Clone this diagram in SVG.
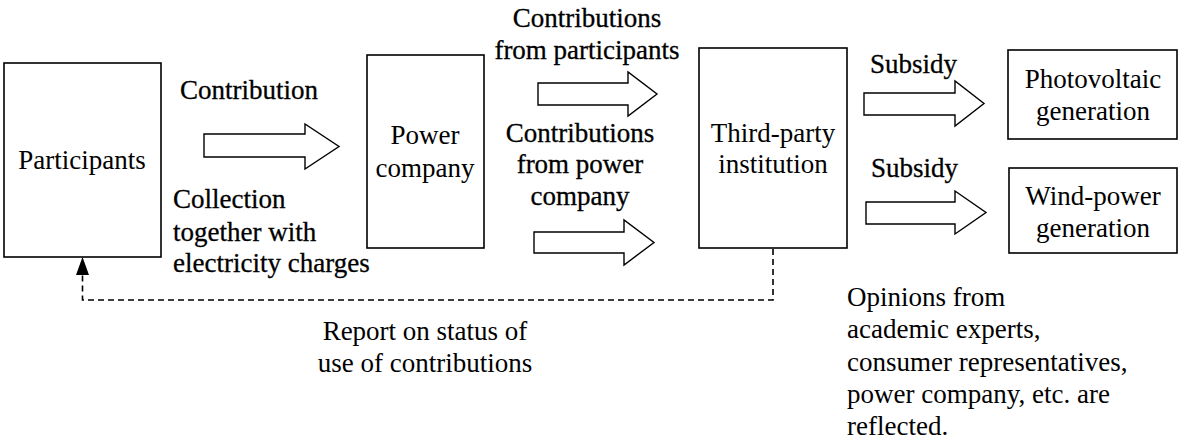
<svg xmlns="http://www.w3.org/2000/svg" width="1179" height="442" viewBox="0 0 1179 442">
<defs>
<style>
.box{fill:#fff;stroke:#000;stroke-width:1.6}
.big{fill:#fff;stroke:#000;stroke-width:1.4}
.dash{fill:none;stroke:#000;stroke-width:1.6;stroke-dasharray:6 4}
.h{stroke:#000;stroke-width:0.3}
</style>
</defs>
<rect width="1179" height="442" fill="#fff"/>
<g id="participants">
<rect class="box" x="4" y="63" width="157" height="194"/>
<text font-family="Liberation Serif" font-size="27" text-anchor="middle" x="82" y="169">Participants</text>
</g>
<g id="power-company">
<rect class="box" x="367" y="55" width="117" height="193"/>
<text font-family="Liberation Serif" font-size="27" text-anchor="middle" x="425" y="144">Power</text>
<text font-family="Liberation Serif" font-size="27" text-anchor="middle" x="425" y="177">company</text>
</g>
<g id="third-party">
<rect class="box" x="699" y="48" width="148" height="200"/>
<text font-family="Liberation Serif" font-size="27" text-anchor="middle" x="773" y="142">Third-party</text>
<text font-family="Liberation Serif" font-size="27" text-anchor="middle" x="773" y="173">institution</text>
</g>
<g id="photovoltaic">
<rect class="box" x="1008" y="50" width="169" height="89"/>
<text font-family="Liberation Serif" font-size="27" text-anchor="middle" x="1093" y="88">Photovoltaic</text>
<text font-family="Liberation Serif" font-size="27" text-anchor="middle" x="1093" y="120">generation</text>
</g>
<g id="wind-power">
<rect class="box" x="1009" y="168" width="168" height="85"/>
<text font-family="Liberation Serif" font-size="27" text-anchor="middle" x="1093" y="205">Wind-power</text>
<text font-family="Liberation Serif" font-size="27" text-anchor="middle" x="1093" y="237">generation</text>
</g>

<g id="connectors">
<polygon class="big" points="204,134 305,134 305,124 339,146.5 305,169 305,157 204,157"/>
<polygon class="big" points="538,83 628,83 628,72 657,94 628,116 628,105 538,105"/>
<polygon class="big" points="534,232 624,232 624,220 654,242.5 624,265 624,253 534,253"/>
<polygon class="big" points="864,93 955,93 955,81 984,103.5 955,126 955,115 864,115"/>
<polygon class="big" points="866,202 955,202 955,191 986,212.5 955,234 955,224 866,224"/>
<polyline class="dash" points="773,249 773,300 82.5,300 82.5,274"/>
<polygon points="76,275 89,275 82.5,257" fill="#000"/>
</g>

<g id="labels">
<text class="h" font-family="Liberation Serif" font-size="27" x="180" y="99">Contribution</text>
<text class="h" font-family="Liberation Serif" font-size="27" x="173" y="208">Collection</text>
<text class="h" font-family="Liberation Serif" font-size="27" x="173" y="241">together with</text>
<text class="h" font-family="Liberation Serif" font-size="27" x="173" y="272">electricity charges</text>
<text class="h" font-family="Liberation Serif" font-size="27" text-anchor="middle" x="587" y="27">Contributions</text>
<text class="h" font-family="Liberation Serif" font-size="27" text-anchor="middle" x="587" y="59">from participants</text>
<text class="h" font-family="Liberation Serif" font-size="27" text-anchor="middle" x="580" y="142">Contributions</text>
<text class="h" font-family="Liberation Serif" font-size="27" text-anchor="middle" x="580" y="173">from power</text>
<text class="h" font-family="Liberation Serif" font-size="27" text-anchor="middle" x="580" y="205">company</text>
<text class="h" font-family="Liberation Serif" font-size="27" x="870" y="73">Subsidy</text>
<text class="h" font-family="Liberation Serif" font-size="27" x="871" y="177">Subsidy</text>
<text font-family="Liberation Serif" font-size="27" text-anchor="middle" x="425" y="340">Report on status of</text>
<text font-family="Liberation Serif" font-size="27" text-anchor="middle" x="425" y="372">use of contributions</text>
<text font-family="Liberation Serif" font-size="27" x="847" y="306">Opinions from</text>
<text font-family="Liberation Serif" font-size="27" x="847" y="338">academic experts,</text>
<text font-family="Liberation Serif" font-size="27" x="847" y="371">consumer representatives,</text>
<text font-family="Liberation Serif" font-size="27" x="847" y="403">power company, etc. are</text>
<text font-family="Liberation Serif" font-size="27" x="847" y="435">reflected.</text>
</g>
</svg>
